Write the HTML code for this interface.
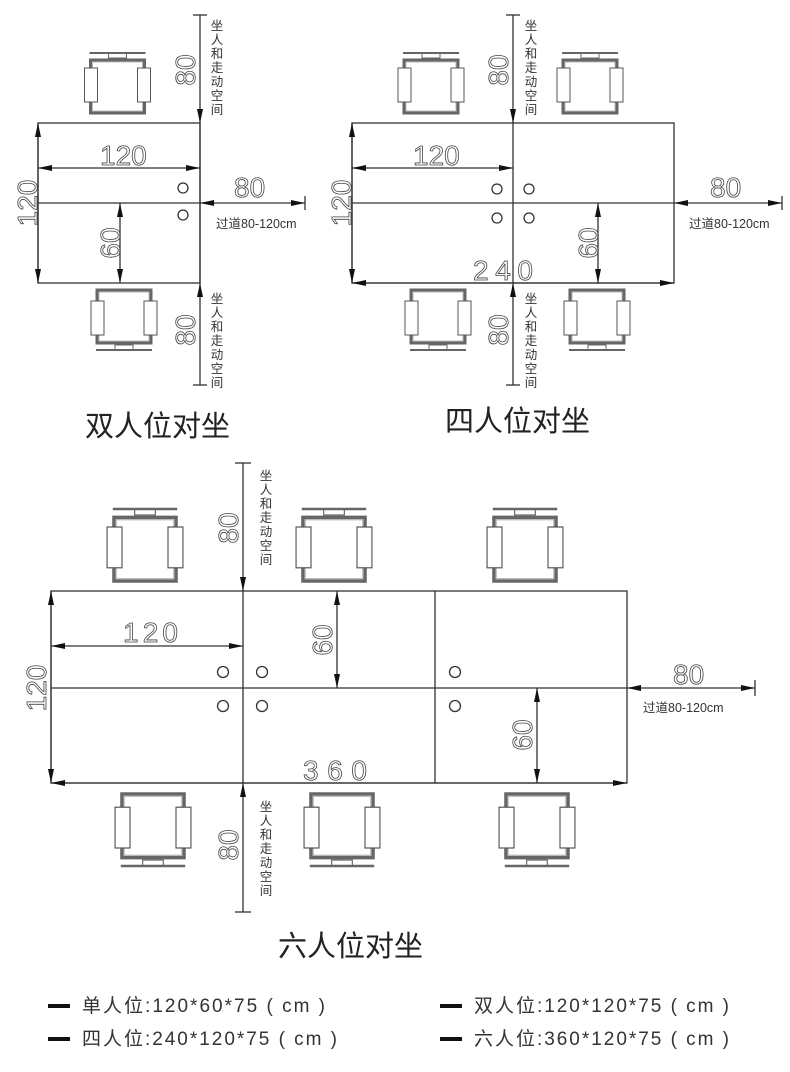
<!DOCTYPE html>
<html><head><meta charset="utf-8"><style>
html,body{margin:0;padding:0;background:#fff;}
svg{display:block;}
.n{font-family:"Liberation Sans",sans-serif;font-weight:300;fill:none;stroke:#444;stroke-width:0.8;font-size:28px;}
.v{font-family:"Liberation Sans","Noto Sans CJK SC",sans-serif;font-size:12.5px;fill:#333;}
.t{font-family:"Liberation Sans","Noto Sans CJK SC",sans-serif;font-size:29px;fill:#222;}
.l{font-family:"Liberation Sans","Noto Sans CJK SC",sans-serif;font-size:19px;fill:#333;}
.ln{stroke:#333;stroke-width:1.3;fill:none;}
</style></head><body>
<svg width="790" height="1072" viewBox="0 0 790 1072" xmlns="http://www.w3.org/2000/svg">
<defs>
<marker id="a" viewBox="0 0 14 6" refX="14" refY="3" markerWidth="14" markerHeight="6" markerUnits="userSpaceOnUse" orient="auto-start-reverse"><path d="M0,0 L14,3 L0,6 Z" fill="#111"/></marker>
<g id="ch">
<line x1="-28" y1="0" x2="28" y2="0" stroke="#666" stroke-width="2"/>
<rect x="-9" y="0" width="18" height="5" fill="none" stroke="#666" stroke-width="1"/>
<path d="M-27,7 H27 V60 H-27 Z" fill="none" stroke="#666" stroke-width="3"/>
<path d="M-25,9 H25 V58 H-25 Z" fill="none" stroke="#bbb" stroke-width="1"/>
<rect x="-33" y="15" width="13" height="34" fill="#fff" stroke="#555" stroke-width="1"/>
<rect x="20" y="15" width="13" height="34" fill="#fff" stroke="#555" stroke-width="1"/>
</g>
</defs>

<!-- ===== Diagram 1 ===== -->
<use href="#ch" transform="translate(117.5,53)"/>
<use href="#ch" transform="translate(124,350) scale(1,-1)"/>
<rect x="38" y="123" width="162" height="160" class="ln"/>
<line x1="38" y1="203" x2="200" y2="203" class="ln"/>
<line x1="200" y1="15" x2="200" y2="123" class="ln" marker-end="url(#a)"/>
<line x1="200" y1="385" x2="200" y2="283" class="ln" marker-end="url(#a)"/>
<line x1="200" y1="123" x2="200" y2="283" class="ln"/>
<line x1="193" y1="15" x2="207" y2="15" class="ln" stroke-width="2"/>
<line x1="193" y1="385" x2="207" y2="385" class="ln" stroke-width="2"/>
<line x1="38" y1="168" x2="200" y2="168" class="ln" marker-start="url(#a)" marker-end="url(#a)"/>
<line x1="38" y1="123" x2="38" y2="283" class="ln" marker-start="url(#a)" marker-end="url(#a)"/>
<line x1="120" y1="203" x2="120" y2="283" class="ln" marker-start="url(#a)" marker-end="url(#a)"/>
<line x1="200" y1="203" x2="305" y2="203" class="ln" marker-start="url(#a)" marker-end="url(#a)"/>
<line x1="305" y1="196" x2="305" y2="210" class="ln"/>
<circle cx="183" cy="188" r="5" class="ln" stroke-width="1"/>
<circle cx="183" cy="215" r="5" class="ln" stroke-width="1"/>
<text class="n" x="100" y="165">120</text>
<text class="n" x="234" y="197">80</text>
<text class="n" transform="translate(37,203) rotate(-90)" text-anchor="middle">120</text>
<text class="n" transform="translate(120,243) rotate(-90)" text-anchor="middle">60</text>
<text class="n" transform="translate(195,70) rotate(-90)" text-anchor="middle">80</text>
<text class="n" transform="translate(195,330) rotate(-90)" text-anchor="middle">80</text>
<text class="v" x="216" y="228">过道80-120cm</text>
<g class="v" text-anchor="middle"><text x="217" y="30">坐</text><text x="217" y="44">人</text><text x="217" y="58">和</text><text x="217" y="72">走</text><text x="217" y="86">动</text><text x="217" y="100">空</text><text x="217" y="114">间</text></g>
<g class="v" text-anchor="middle"><text x="217" y="303">坐</text><text x="217" y="317">人</text><text x="217" y="331">和</text><text x="217" y="345">走</text><text x="217" y="359">动</text><text x="217" y="373">空</text><text x="217" y="387">间</text></g>
<text class="t" x="85" y="436">双人位对坐</text>

<!-- ===== Diagram 2 ===== -->
<use href="#ch" transform="translate(431,53)"/>
<use href="#ch" transform="translate(590,53)"/>
<use href="#ch" transform="translate(438,350) scale(1,-1)"/>
<use href="#ch" transform="translate(597,350) scale(1,-1)"/>
<rect x="352" y="123" width="322" height="160" class="ln"/>
<line x1="352" y1="203" x2="674" y2="203" class="ln"/>
<line x1="513" y1="15" x2="513" y2="123" class="ln" marker-end="url(#a)"/>
<line x1="513" y1="385" x2="513" y2="283" class="ln" marker-end="url(#a)"/>
<line x1="513" y1="123" x2="513" y2="283" class="ln"/>
<line x1="506" y1="15" x2="520" y2="15" class="ln" stroke-width="2"/>
<line x1="506" y1="385" x2="520" y2="385" class="ln" stroke-width="2"/>
<line x1="352" y1="168" x2="513" y2="168" class="ln" marker-start="url(#a)" marker-end="url(#a)"/>
<line x1="352" y1="123" x2="352" y2="283" class="ln" marker-start="url(#a)" marker-end="url(#a)"/>
<line x1="352" y1="283" x2="674" y2="283" class="ln" marker-start="url(#a)" marker-end="url(#a)"/>
<line x1="598" y1="203" x2="598" y2="283" class="ln" marker-start="url(#a)" marker-end="url(#a)"/>
<line x1="674" y1="203" x2="782" y2="203" class="ln" marker-start="url(#a)" marker-end="url(#a)"/>
<line x1="782" y1="196" x2="782" y2="210" class="ln"/>
<circle cx="497" cy="189" r="5" class="ln" stroke-width="1"/>
<circle cx="529" cy="189" r="5" class="ln" stroke-width="1"/>
<circle cx="497" cy="218" r="5" class="ln" stroke-width="1"/>
<circle cx="529" cy="218" r="5" class="ln" stroke-width="1"/>
<text class="n" x="413" y="165">120</text>
<text class="n" x="473" y="280" textLength="60">240</text>
<text class="n" x="710" y="197">80</text>
<text class="n" transform="translate(351,203) rotate(-90)" text-anchor="middle">120</text>
<text class="n" transform="translate(598,243) rotate(-90)" text-anchor="middle">60</text>
<text class="n" transform="translate(508,70) rotate(-90)" text-anchor="middle">80</text>
<text class="n" transform="translate(508,330) rotate(-90)" text-anchor="middle">80</text>
<text class="v" x="689" y="228">过道80-120cm</text>
<g class="v" text-anchor="middle"><text x="531" y="30">坐</text><text x="531" y="44">人</text><text x="531" y="58">和</text><text x="531" y="72">走</text><text x="531" y="86">动</text><text x="531" y="100">空</text><text x="531" y="114">间</text></g>
<g class="v" text-anchor="middle"><text x="531" y="303">坐</text><text x="531" y="317">人</text><text x="531" y="331">和</text><text x="531" y="345">走</text><text x="531" y="359">动</text><text x="531" y="373">空</text><text x="531" y="387">间</text></g>
<text class="t" x="445" y="431">四人位对坐</text>

<!-- ===== Diagram 3 ===== -->
<use href="#ch" transform="translate(145,509) scale(1.15,1.2)"/>
<use href="#ch" transform="translate(334,509) scale(1.15,1.2)"/>
<use href="#ch" transform="translate(525,509) scale(1.15,1.2)"/>
<use href="#ch" transform="translate(153,866) scale(1.15,-1.2)"/>
<use href="#ch" transform="translate(342,866) scale(1.15,-1.2)"/>
<use href="#ch" transform="translate(537,866) scale(1.15,-1.2)"/>
<rect x="51" y="591" width="576" height="192" class="ln"/>
<line x1="51" y1="688" x2="627" y2="688" class="ln"/>
<line x1="435" y1="591" x2="435" y2="783" class="ln"/>
<line x1="243" y1="463" x2="243" y2="591" class="ln" marker-end="url(#a)"/>
<line x1="243" y1="912" x2="243" y2="783" class="ln" marker-end="url(#a)"/>
<line x1="243" y1="591" x2="243" y2="783" class="ln"/>
<line x1="235" y1="463" x2="251" y2="463" class="ln" stroke-width="2"/>
<line x1="235" y1="912" x2="251" y2="912" class="ln" stroke-width="2"/>
<line x1="51" y1="646" x2="243" y2="646" class="ln" marker-start="url(#a)" marker-end="url(#a)"/>
<line x1="51" y1="591" x2="51" y2="783" class="ln" marker-start="url(#a)" marker-end="url(#a)"/>
<line x1="51" y1="783" x2="627" y2="783" class="ln" marker-start="url(#a)" marker-end="url(#a)"/>
<line x1="337" y1="591" x2="337" y2="688" class="ln" marker-start="url(#a)" marker-end="url(#a)"/>
<line x1="537" y1="688" x2="537" y2="783" class="ln" marker-start="url(#a)" marker-end="url(#a)"/>
<line x1="627" y1="688" x2="755" y2="688" class="ln" marker-start="url(#a)" marker-end="url(#a)"/>
<line x1="755" y1="680" x2="755" y2="696" class="ln"/>
<circle cx="223" cy="672" r="5.5" class="ln" stroke-width="1"/>
<circle cx="262" cy="672" r="5.5" class="ln" stroke-width="1"/>
<circle cx="223" cy="706" r="5.5" class="ln" stroke-width="1"/>
<circle cx="262" cy="706" r="5.5" class="ln" stroke-width="1"/>
<circle cx="455" cy="672" r="5.5" class="ln" stroke-width="1"/>
<circle cx="455" cy="706" r="5.5" class="ln" stroke-width="1"/>
<text class="n" x="123" y="642" textLength="55">120</text>
<text class="n" x="303" y="780" textLength="64">360</text>
<text class="n" x="673" y="684">80</text>
<text class="n" transform="translate(46,688) rotate(-90)" text-anchor="middle">120</text>
<text class="n" transform="translate(332,640) rotate(-90)" text-anchor="middle">60</text>
<text class="n" transform="translate(532,735) rotate(-90)" text-anchor="middle">60</text>
<text class="n" transform="translate(238,528) rotate(-90)" text-anchor="middle">80</text>
<text class="n" transform="translate(238,845) rotate(-90)" text-anchor="middle">80</text>
<text class="v" x="643" y="712">过道80-120cm</text>
<g class="v" text-anchor="middle"><text x="266" y="480">坐</text><text x="266" y="494">人</text><text x="266" y="508">和</text><text x="266" y="522">走</text><text x="266" y="536">动</text><text x="266" y="550">空</text><text x="266" y="564">间</text></g>
<g class="v" text-anchor="middle"><text x="266" y="811">坐</text><text x="266" y="825">人</text><text x="266" y="839">和</text><text x="266" y="853">走</text><text x="266" y="867">动</text><text x="266" y="881">空</text><text x="266" y="895">间</text></g>
<text class="t" x="278" y="956">六人位对坐</text>

<!-- legend -->
<rect x="48" y="1004" width="22" height="4" fill="#111"/>
<rect x="48" y="1037" width="22" height="4" fill="#111"/>
<rect x="440" y="1004" width="22" height="4" fill="#111"/>
<rect x="440" y="1037" width="22" height="4" fill="#111"/>
<text class="l" x="82" y="1012" textLength="243" lengthAdjust="spacing">单人位:120*60*75 ( cm )</text>
<text class="l" x="82" y="1045" textLength="255" lengthAdjust="spacing">四人位:240*120*75 ( cm )</text>
<text class="l" x="474" y="1012" textLength="255" lengthAdjust="spacing">双人位:120*120*75 ( cm )</text>
<text class="l" x="474" y="1045" textLength="255" lengthAdjust="spacing">六人位:360*120*75 ( cm )</text>
</svg>
</body></html>
